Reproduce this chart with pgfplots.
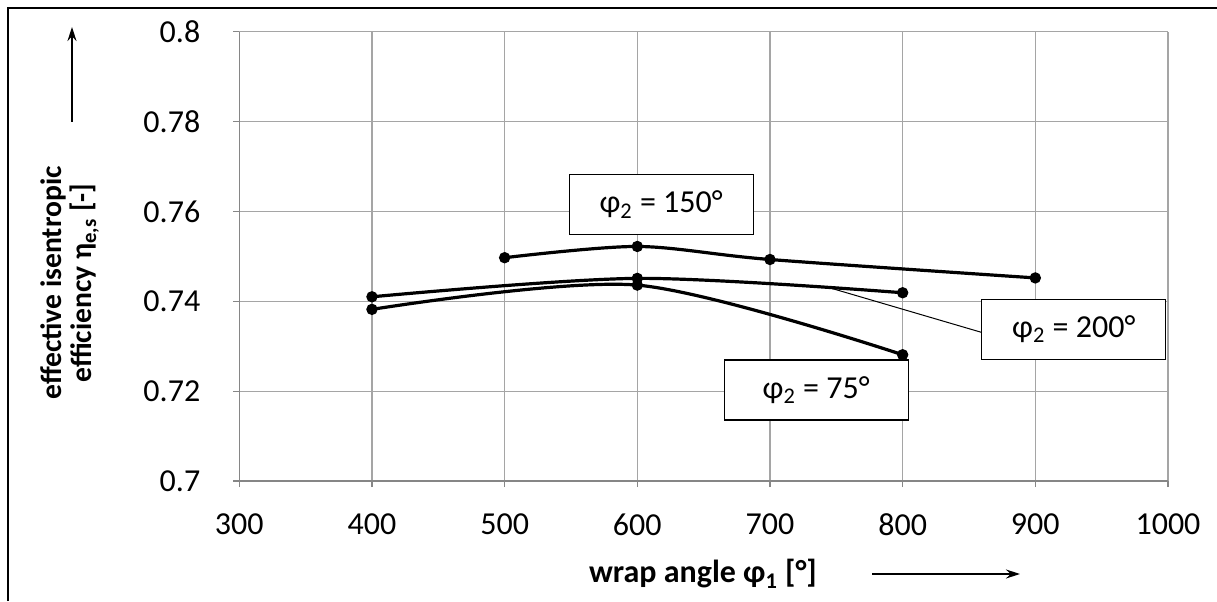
\documentclass[border=0pt]{standalone}
\usepackage{fontspec}
\setmainfont{Carlito}
\usepackage{pgfplots}
\pgfplotsset{compat=1.18}
\usetikzlibrary{arrows.meta}
\definecolor{gridgray}{RGB}{165,165,165}
\definecolor{axgray}{RGB}{134,134,134}
\pgfplotstableread{
x y
500 0.7497
600 0.7522
700 0.7493
900 0.7452
}\tabA
\pgfplotstableread{
x y
400 0.7410
600 0.7451
800 0.7419
}\tabB
\pgfplotstableread{
x y
400 0.7382
600 0.7436
800 0.7281
}\tabC
\begin{document}
\begin{tikzpicture}[x=1pt,y=1pt]
\useasboundingbox (0,0) rectangle (608.5,300.5);
\draw[line width=0.9pt] (4.15,0) -- (4.15,296.35) -- (608.5,296.35);
\begin{axis}[
  at={(119.65pt,60pt)}, anchor=south west,
  scale only axis, width=464.35pt, height=224.65pt,
  xmin=300, xmax=1000, ymin=0.7, ymax=0.8,
  xtick={300,400,500,600,700,800,900,1000},
  xticklabels={300,400,500,600,700,800,900,1000},
  ytick={0.7,0.72,0.74,0.76,0.78,0.8},
  yticklabels={0.7,0.72,0.74,0.76,0.78,0.8},
  axis x line*=bottom, axis y line*=left,
  axis line style={axgray, line width=0.8pt},
  grid=major, grid style={gridgray, line width=0.6pt},
  tick align=outside, major tick length=3pt,
  tick style={axgray, line width=0.6pt},
  tick label style={font=\fontsize{16}{19}\selectfont},
  yticklabel style={xshift=-13pt},
  xticklabel style={yshift=-10pt},
  /pgf/number format/assume math mode=true,
  clip=false,
]
\addplot[black, line width=1.6pt, smooth, mark=*, mark size=2pt] table[x=x,y=y] {\tabA};
\addplot[black, line width=1.6pt, smooth, mark=*, mark size=2pt] table[x=x,y=y] {\tabB};
\addplot[black, line width=1.6pt, smooth, mark=*, mark size=2pt] table[x=x,y=y] {\tabC};
\draw[black, line width=0.5pt] (axis cs:745,0.7430) -- (axis cs:859.6,0.73307);
\node[draw=black, line width=0.6pt, fill=white, minimum width=92pt, minimum height=30pt, inner sep=0pt, font=\fontsize{16}{19}\selectfont] at (axis cs:618,0.76154) {φ\textsubscript{2} = 150°};
\node[draw=black, line width=0.6pt, fill=white, minimum width=92pt, minimum height=30pt, inner sep=0pt, font=\fontsize{16}{19}\selectfont] at (axis cs:734.8,0.72026) {φ\textsubscript{2} = 75°};
\node[draw=black, line width=0.6pt, fill=white, minimum width=92pt, minimum height=30pt, inner sep=0pt, font=\fontsize{16}{19}\selectfont] at (axis cs:929,0.73374) {φ\textsubscript{2} = 200°};
\end{axis}
\node[rotate=90, align=center, font=\bfseries\fontsize{14.8}{15}\selectfont] at (35,159) {effective isentropic\\efficiency η\textsubscript{e,s} [-]};
\draw[-{Stealth[length=7pt,width=4.5pt]}, line width=0.6pt] (36,239.5) -- (36,287);
\node[font=\bfseries\fontsize{16}{19}\selectfont] at (351.5,13.5) {wrap angle φ\textsubscript{1} [°]};
\draw[-{Stealth[length=7pt,width=4.5pt]}, line width=0.6pt] (436,13.5) -- (510,13.5);
\end{tikzpicture}
\end{document}
